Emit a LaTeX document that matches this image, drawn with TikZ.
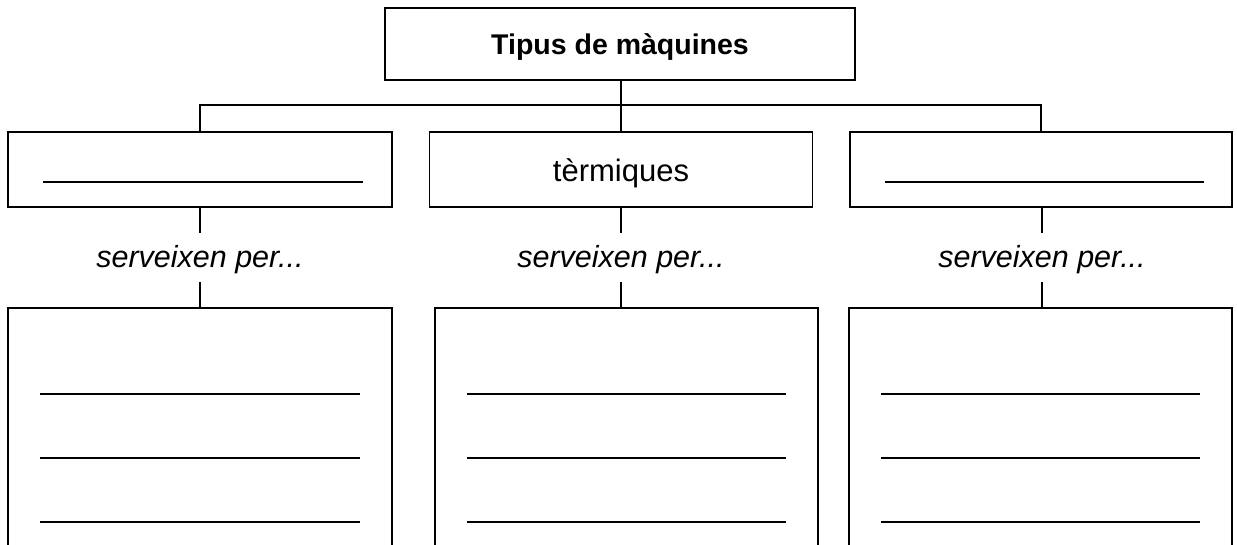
\documentclass[tikz,border=0pt]{standalone}
\usepackage{fontspec}
\setmainfont{Liberation Sans}
\newcommand{\lowertxt}[2]{\raisebox{-#1}[\height][\depth]{#2}}
\begin{document}
\begin{tikzpicture}[x=1pt,y=-1pt,
  boxst/.style={draw=black,line width=1.2pt,rectangle,inner sep=0pt,anchor=center},
  lbl/.style={inner sep=0pt,minimum height=49pt,anchor=center,font=\fontsize{30.5}{32}\selectfont\itshape},
  conn/.style={draw=black,line width=1.2pt},
  blank/.style={draw=black,line width=1.2pt}]
\useasboundingbox (0,0) rectangle (1237,544);
\clip (0,0) rectangle (1237,544);
% top
\node[boxst,minimum width=470pt,minimum height=72pt,font=\fontsize{28.5}{30}\selectfont\bfseries] (top) at (620,44) {\lowertxt{3pt}{Tipus de màquines}};
% upper boxes
\node[boxst,minimum width=384pt,minimum height=75pt] (l1) at (200,169.5) {};
\node[boxst,minimum width=383pt,minimum height=75pt,font=\fontsize{31}{32}\selectfont] (m1) at (621,169.5) {\lowertxt{3.5pt}{tèrmiques}};
\node[boxst,minimum width=382pt,minimum height=75pt] (r1) at (1041,169.5) {};
% labels
\node[lbl] (s1) at (200,257.5) {\lowertxt{2pt}{serveixen per...}};
\node[lbl] (s2) at (621,257.5) {\lowertxt{2pt}{serveixen per...}};
\node[lbl] (s3) at (1042,257.5) {\lowertxt{2pt}{serveixen per...}};
% lower boxes
\node[boxst,minimum width=384pt,minimum height=260pt] (l2) at (200,438) {};
\node[boxst,minimum width=383pt,minimum height=260pt] (m2) at (626.5,438) {};
\node[boxst,minimum width=383pt,minimum height=260pt] (r2) at (1040.5,438) {};
% connectors
\coordinate (j) at (621,105);
\draw[conn] (top.south -| j) -- (j);
\draw[conn] (l1.north) |- (j) -| (r1.north);
\draw[conn] (j) -- (j |- m1.north);
\draw[conn] (l1.south) -- (s1.north);
\draw[conn] (s1.south) -- (s1.south |- l2.north);
\draw[conn] (m1.south -| s2) -- (s2.north);
\draw[conn] (s2.south) -- (s2.south |- m2.north);
\draw[conn] (r1.south -| s3) -- (s3.north);
\draw[conn] (s3.south) -- (s3.south |- r2.north);
% blanks in upper boxes
\draw[blank] (43,182) -- (363,182);
\draw[blank] (885,182) -- (1204,182);
% blanks in lower boxes
\foreach \yy in {394,458,522}{
  \draw[blank] (40,\yy) -- (360,\yy);
  \draw[blank] (467,\yy) -- (786,\yy);
  \draw[blank] (881,\yy) -- (1200,\yy);
}
\end{tikzpicture}
\end{document}
